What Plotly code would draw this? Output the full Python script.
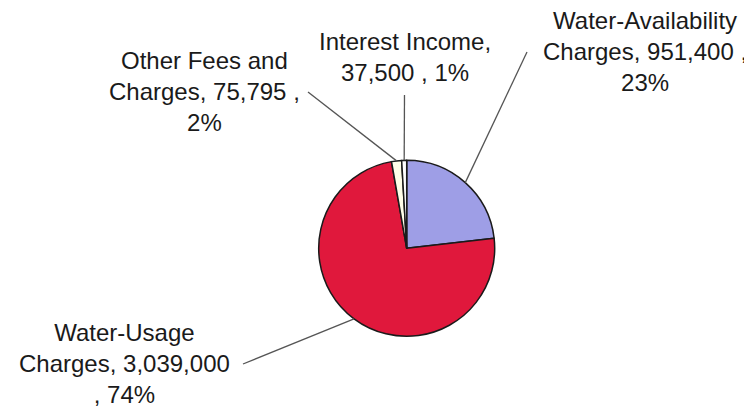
import math
import plotly.graph_objects as go

# ---- data ----
labels = ["Water-Availability Charges", "Water-Usage Charges",
          "Other Fees and Charges", "Interest Income"]
values = [951400, 3039000, 75795, 37500]
label_texts = ["Water-Availability<br>Charges, 951,400 ,<br>23%",
               "Water-Usage<br>Charges, 3,039,000<br>, 74%",
               "Other Fees and<br>Charges, 75,795 ,<br>2%",
               "Interest Income,<br>37,500 , 1%"]
colors = ["#9E9EE6", "#E0183C", "#FFFDE8", "#FFFFFF"]

# ---- layout (pixels, page coordinates; the page body has an 8px margin) ----
OFF = 8
W, H = 752 - OFF, 413 - OFF
cx, cy, r = 406.7, 248.3, 88.0
text_pos = [(645, 51), (124, 363), (204, 91), (405, 57)]
line_end = [(527, 52), (243, 364), (308, 92), (404.5, 95)]

def px(x):
    return (x - OFF) / W

def py(y):
    return 1 - (y - OFF) / H

fig = go.Figure(go.Pie(
    labels=labels, values=values, sort=False, direction="clockwise",
    rotation=0, textinfo="none", hoverinfo="label+value+percent",
    marker=dict(colors=colors, line=dict(color="#1A1A1A", width=1.5)),
    domain=dict(x=[px(cx - r), px(cx + r)], y=[py(cy + r), py(cy - r)]),
    showlegend=False,
))

total = sum(values)
cum = 0.0
shapes = []
annotations = []
for i, v in enumerate(values):
    mid = (cum + v / 2) / total * 2 * math.pi
    cum += v
    ex = cx + r * math.sin(mid)
    ey = cy - r * math.cos(mid)
    lx, ly = line_end[i]
    shapes.append(dict(type="line", xref="paper", yref="paper",
                       x0=px(ex), y0=py(ey), x1=px(lx), y1=py(ly),
                       line=dict(color="#555555", width=1.3)))
    tx, ty = text_pos[i]
    annotations.append(dict(text=label_texts[i], x=px(tx), y=py(ty),
                            xref="paper", yref="paper", showarrow=False,
                            xanchor="center", yanchor="middle", align="center",
                            font=dict(family="Arial, Liberation Sans", size=24,
                                      color="#1A1A1A")))

fig.update_layout(width=W, height=H, margin=dict(l=0, r=0, t=0, b=0),
                  paper_bgcolor="white", plot_bgcolor="white",
                  shapes=shapes, annotations=annotations)

fig.write_html("out.html")
